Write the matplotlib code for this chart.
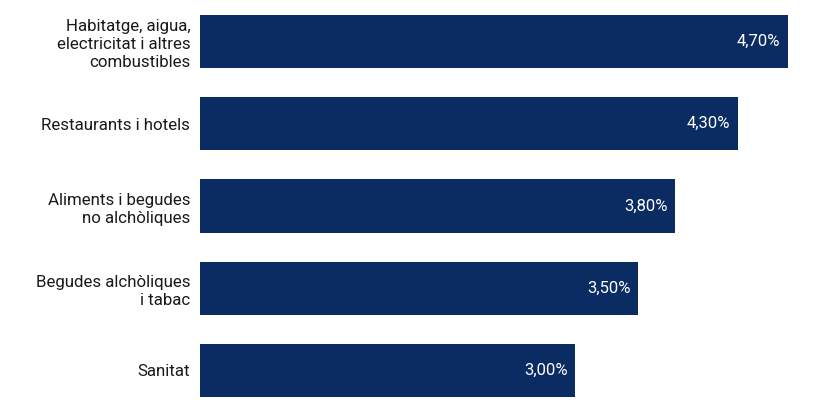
import matplotlib.pyplot as plt

categories = ['Habitatge, aigua,\nelectricitat i altres\ncombustibles',
              'Restaurants i hotels',
              'Aliments i begudes\nno alchòliques',
              'Begudes alchòliques\ni tabac',
              'Sanitat']
values = [4.70, 4.30, 3.80, 3.50, 3.00]
labels = ['4,70%', '4,30%', '3,80%', '3,50%', '3,00%']

plt.rcParams['font.family'] = ['Roboto', 'DejaVu Sans']
navy = '#0a2c63'

fig = plt.figure(figsize=(8.38, 4.18), dpi=100)
ax = fig.add_axes([200 / 838, 6.4 / 418, 638 / 838, 411.2 / 418])

pos = range(len(values))
ax.barh(pos, values, height=0.645, color=navy)
for y, v, lab in zip(pos, values, labels):
    ax.text(v - 0.06, y, lab, color='white', ha='right', va='center', fontsize=12)

ax.set_xlim(0, 638 / 125.1)
ax.set_ylim(4.5, -0.5)
ax.set_yticks(list(pos))
ax.set_yticklabels(categories, fontsize=12.2, color='#1a1a1a', linespacing=1.25)
ax.tick_params(axis='y', length=0, pad=7)
ax.set_xticks([])
for s in ax.spines.values():
    s.set_visible(False)

fig.savefig('out.png', dpi=100)
